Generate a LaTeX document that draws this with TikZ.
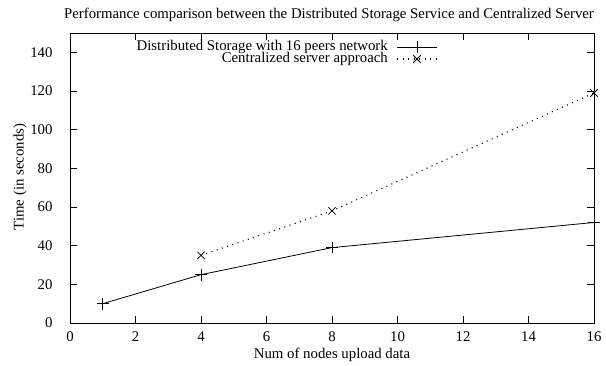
\documentclass[tikz,border=0pt]{standalone}
\usepackage{fontspec}
\setmainfont{Liberation Serif}
\usepackage{tikz}
\usetikzlibrary{shapes.misc, positioning}
\tikzset{
	plotframe/.style={draw=black, line width=0.9pt},
	axtick/.style   ={draw=black, line width=0.8pt},
	% series styles and point markers
	seriesdist/.style={draw=black, line width=0.8pt},
	seriescent/.style={draw=black, line width=1.1pt, dash pattern=on 1pt off 4.5pt},
	plusmark/.style  ={cross out, rotate=45, draw=black, line width=0.8pt, minimum size=7.5pt, inner sep=0pt},
	crossmark/.style ={cross out, draw=black, line width=0.8pt, minimum size=6.5pt, inner sep=0pt},
	legtext/.style   ={anchor=east, inner sep=0pt},
}

\begin{document}
\begin{tikzpicture}[font=\fontsize{14.8}{16}\selectfont]
	\useasboundingbox (0pt,0pt) rectangle (606pt,366pt);
	\node (title) at (329pt,351pt) {Performance comparison between the Distributed Storage Service and Centralized Server};
	\node[rotate=90] (ylab) at (20pt,189pt) {Time (in seconds)};
	\node (xlab) at (332pt,11pt) {Num of nodes upload data};
	\begin{scope}[shift={(70pt,43pt)}, x=32.75pt, y=1.933pt]
		\draw[plotframe] (0,0) rectangle (16,150);
		\foreach \x in {0,2,...,16} {
			\draw[axtick] (\x,0) -- ++(0pt,7pt);
			\draw[axtick] (\x,150) -- ++(0pt,-7pt);
			\node[below=5pt] (xl\x) at (\x,0) {\x};
		}
		\foreach \y in {0,20,...,140} {
			\draw[axtick] (0,\y) -- ++(7pt,0pt);
			\draw[axtick] (16,\y) -- ++(-7pt,0pt);
			\node[left=14pt] (yl\y) at (0,\y) {\y};
		}
		\node[plusmark] (d1) at (1,10) {};
		\node[plusmark] (d4) at (4,25) {};
		\node[plusmark] (d8) at (8,39) {};
		\node[plusmark] (d16) at (16,52) {};
		\node[crossmark] (c4) at (4,35) {};
		\node[crossmark] (c8) at (8,58) {};
		\node[crossmark] (c16) at (16,119) {};
		\draw[seriesdist] (d1.center) -- (d4.center) -- (d8.center) -- (d16.center);
		\draw[seriescent] (c4.center) -- (c8.center) -- (c16.center);
	\end{scope}
	\node[legtext] (legdist) at (388pt,319.5pt) {Distributed Storage with 16 peers network};
	\node[legtext] (legcent) at (388pt,307pt) {Centralized server approach};
	\coordinate (ldl) at (397pt,319pt);
	\coordinate (ldr) at (437pt,319pt);
	\coordinate (lcl) at (397pt,307pt);
	\coordinate (lcr) at (437pt,307pt);
	\node[plusmark] (ldm) at (417pt,319pt) {};
	\node[crossmark] (lcm) at (417pt,307pt) {};
	\draw[seriesdist] (ldl) -- (ldr);
	\draw[seriescent] (lcl) -- (lcr);
\end{tikzpicture}
\end{document}
